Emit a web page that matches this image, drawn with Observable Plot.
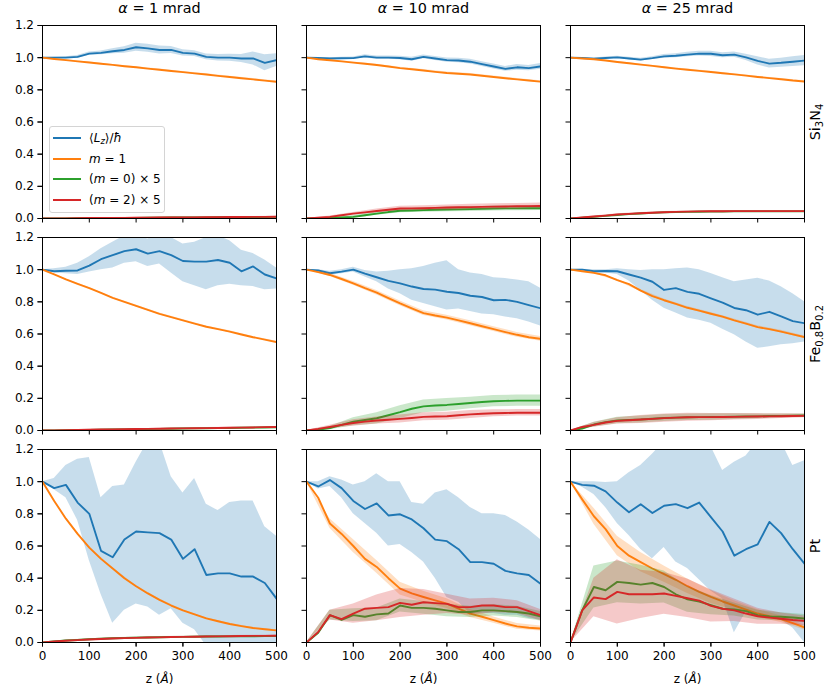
<!DOCTYPE html>
<html>
<head>
<meta charset="utf-8">
<script src="https://cdn.jsdelivr.net/npm/d3@7"></script>
<script src="https://cdn.jsdelivr.net/npm/@observablehq/plot@0.6"></script>
<style>
  body { margin: 0; background: #fff; }
  #wrap { position: relative; width: 831px; height: 693px; font-family: "DejaVu Sans", sans-serif; }
  #legend { position: absolute; left: 49px; top: 126px; width: 114px; height: 85px;
    border: 1px solid #d4d4d4; border-radius: 3px; background: rgba(255,255,255,0.8);
    font: 12px "DejaVu Sans", sans-serif; color: #000; }
  .item { position: absolute; left: 0; height: 16px; width: 114px; }
  .sw { position: absolute; left: 3px; top: 7px; width: 28px; height: 2px; }
  .lab { position: absolute; left: 39px; top: 0; line-height: 16px; white-space: nowrap; }
  sub { font-size: 8.5px; vertical-align: -2px; line-height: 0; }
</style>
</head>
<body>
<div id="wrap"><div id="chart"></div><div id="legend"></div></div>
<script>
// ---------- data ----------
const materials = ["Si3N4", "Fe0.8B0.2", "Pt"];
const alphas = [1, 10, 25];
const zGrid = [0,25,50,75,100,125,150,175,200,225,250,275,300,325,350,375,400,425,450,475,500];
const zErrGrid = [0,50,100,150,200,250,300,350,400,450,500];
const xTicks = [0,100,200,300,400,500];
const yTicks = [0,0.2,0.4,0.6,0.8,1.0,1.2];

// panel order: Si3N4 (1,10,25), Fe0.8B0.2 (1,10,25), Pt (1,10,25)
const LzMean = [
 [1.0,1.0,1.0,1.005,1.025,1.03,1.04,1.048,1.065,1.058,1.048,1.048,1.03,1.025,1.005,1.0,1.0,0.995,0.995,0.968,0.985],
 [1.0,0.998,0.995,0.996,0.997,1.008,1.0,1.0,0.998,0.99,1.005,0.995,0.985,0.982,0.975,0.96,0.945,0.93,0.94,0.935,0.946],
 [1.0,0.998,0.994,0.998,1.002,0.995,0.988,0.997,1.008,1.012,1.019,1.025,1.024,1.015,1.019,1.002,0.98,0.963,0.968,0.975,0.982],
 [1.0,0.99,0.993,0.995,1.025,1.065,1.09,1.115,1.127,1.1,1.115,1.09,1.054,1.05,1.05,1.06,1.043,0.99,1.02,0.97,0.946],
 [1.0,0.995,0.978,0.988,1.0,0.975,0.953,0.93,0.915,0.895,0.88,0.876,0.863,0.855,0.838,0.83,0.81,0.812,0.8,0.78,0.76],
 [1.0,1.0,0.99,0.992,0.99,0.97,0.95,0.925,0.874,0.885,0.862,0.85,0.822,0.795,0.762,0.748,0.72,0.738,0.71,0.68,0.667],
 [1.0,0.96,0.98,0.87,0.8,0.57,0.53,0.64,0.69,0.685,0.68,0.64,0.52,0.58,0.42,0.43,0.43,0.41,0.41,0.37,0.273],
 [1.0,0.97,1.01,0.96,0.88,0.83,0.865,0.79,0.797,0.765,0.71,0.64,0.63,0.58,0.5,0.5,0.49,0.445,0.43,0.42,0.365],
 [1.0,0.98,0.975,0.94,0.87,0.81,0.86,0.805,0.85,0.86,0.835,0.87,0.78,0.69,0.54,0.58,0.61,0.75,0.68,0.58,0.49]
];
const LzLow = [
 [1.0,0.997,0.995,0.997,1.015,1.018,1.025,1.028,1.04,1.033,1.023,1.026,1.01,1.007,0.987,0.98,0.978,0.97,0.955,0.918,0.945],
 [1.0,0.995,0.99,0.99,0.99,0.998,0.99,0.99,0.987,0.978,0.993,0.982,0.972,0.968,0.96,0.945,0.93,0.915,0.922,0.918,0.928],
 [1.0,0.995,0.99,0.992,0.995,0.987,0.98,0.988,0.997,1.0,1.005,1.01,1.008,1.0,1.003,0.982,0.955,0.935,0.94,0.945,0.95],
 [1.0,0.98,0.975,0.97,0.985,1.0,1.01,1.04,1.05,1.02,1.035,0.98,0.925,0.9,0.875,0.9,0.91,0.9,0.895,0.875,0.88],
 [1.0,0.99,0.965,0.975,0.985,0.955,0.925,0.88,0.85,0.81,0.79,0.77,0.75,0.755,0.74,0.725,0.72,0.705,0.695,0.675,0.65],
 [1.0,0.995,0.98,0.98,0.97,0.93,0.87,0.81,0.76,0.73,0.7,0.685,0.667,0.63,0.595,0.55,0.512,0.52,0.533,0.54,0.55],
 [1.0,0.95,0.9,0.76,0.51,0.3,0.12,0.2,0.24,0.22,0.17,0.21,0.12,0.08,-0.02,-0.05,-0.05,-0.05,-0.05,-0.05,-0.05],
 [1.0,0.955,0.97,0.9,0.8,0.74,0.68,0.6,0.61,0.56,0.5,0.4,0.28,0.25,0.18,0.18,0.18,0.17,0.17,0.15,0.14],
 [1.0,0.965,0.92,0.84,0.74,0.665,0.58,0.52,0.59,0.5,0.46,0.39,0.32,0.27,0.06,0.19,0.18,0.16,0.14,0.09,0.0]
];
const LzHigh = [
 [1.0,1.003,1.005,1.013,1.035,1.042,1.055,1.068,1.09,1.083,1.073,1.07,1.05,1.043,1.023,1.02,1.022,1.02,1.035,1.018,1.025],
 [1.0,1.001,1.0,1.002,1.004,1.018,1.01,1.01,1.009,1.002,1.017,1.008,0.998,0.996,0.99,0.975,0.96,0.945,0.958,0.952,0.964],
 [1.0,1.001,0.998,1.004,1.009,1.003,0.996,1.006,1.019,1.024,1.033,1.04,1.04,1.03,1.035,1.022,1.005,0.99,0.996,1.005,1.014],
 [1.0,1.005,1.015,1.04,1.08,1.13,1.17,1.21,1.22,1.19,1.22,1.2,1.16,1.17,1.2,1.21,1.18,1.12,1.1,1.06,1.01],
 [1.0,1.0,0.99,1.0,1.015,0.995,0.985,0.99,1.0,1.005,1.02,1.04,1.055,1.0,0.98,0.97,0.95,0.945,0.935,0.925,0.885],
 [1.0,1.003,1.0,1.0,1.005,1.0,0.995,1.0,1.0,1.005,1.01,1.0,0.976,0.95,0.925,0.935,0.946,0.93,0.894,0.85,0.8],
 [1.0,1.02,1.1,1.14,1.15,0.9,0.97,0.98,1.12,1.25,1.25,1.03,0.93,1.02,0.86,0.82,0.87,0.88,0.88,0.72,0.66],
 [1.0,1.0,1.03,1.01,0.98,1.0,1.05,1.0,1.0,0.87,0.86,0.93,0.95,0.9,0.84,0.8,0.8,0.79,0.75,0.7,0.64],
 [1.0,1.0,1.0,0.995,1.0,1.055,1.1,1.17,1.25,1.25,1.25,1.25,1.22,1.07,1.12,1.16,1.25,1.25,1.25,1.1,1.13]
];
const m1Mean = [
 [1.0,0.992,0.985,0.977,0.97,0.962,0.955,0.947,0.94,0.932,0.925,0.917,0.91,0.902,0.895,0.887,0.88,0.872,0.865,0.857,0.85],
 [1.0,0.99,0.984,0.977,0.969,0.962,0.954,0.945,0.935,0.928,0.92,0.912,0.905,0.9,0.895,0.888,0.88,0.872,0.865,0.858,0.851],
 [1.0,0.995,0.99,0.982,0.973,0.965,0.957,0.949,0.94,0.932,0.925,0.918,0.911,0.903,0.896,0.888,0.88,0.873,0.866,0.858,0.852],
 [1.0,0.97,0.94,0.912,0.885,0.855,0.825,0.8,0.775,0.75,0.725,0.705,0.685,0.665,0.645,0.63,0.615,0.597,0.58,0.565,0.55],
 [1.0,0.985,0.967,0.942,0.915,0.885,0.857,0.823,0.79,0.76,0.73,0.715,0.702,0.685,0.667,0.648,0.63,0.612,0.595,0.58,0.57],
 [1.0,0.99,0.98,0.965,0.935,0.91,0.87,0.835,0.81,0.787,0.763,0.745,0.726,0.708,0.685,0.665,0.643,0.63,0.615,0.598,0.58],
 [1.0,0.88,0.77,0.675,0.59,0.52,0.46,0.4,0.35,0.305,0.265,0.23,0.2,0.175,0.15,0.132,0.115,0.102,0.09,0.082,0.075],
 [1.0,0.9,0.74,0.675,0.6,0.52,0.47,0.4,0.335,0.305,0.283,0.262,0.242,0.21,0.18,0.16,0.139,0.118,0.1,0.092,0.087],
 [1.0,0.89,0.785,0.705,0.6,0.54,0.5,0.46,0.425,0.39,0.35,0.315,0.283,0.255,0.23,0.205,0.18,0.163,0.145,0.12,0.093]
];
const m1Err = [
 [0,0.002,0.003,0.003,0.004,0.004,0.004,0.005,0.005,0.005,0.005],
 [0,0.003,0.004,0.005,0.005,0.006,0.006,0.006,0.006,0.006,0.006],
 [0,0.002,0.003,0.003,0.004,0.004,0.004,0.004,0.004,0.004,0.004],
 [0,0.003,0.004,0.004,0.005,0.005,0.005,0.005,0.005,0.005,0.005],
 [0,0.01,0.012,0.014,0.015,0.015,0.015,0.015,0.015,0.015,0.015],
 [0,0.005,0.006,0.007,0.008,0.008,0.008,0.008,0.008,0.008,0.008],
 [0,0.004,0.005,0.005,0.005,0.005,0.004,0.004,0.004,0.004,0.004],
 [0,0.03,0.04,0.04,0.04,0.035,0.03,0.025,0.02,0.018,0.015],
 [0,0.05,0.06,0.06,0.05,0.045,0.04,0.03,0.025,0.02,0.015]
];
const m0Mean = [
 [0,0.001,0.001,0.002,0.002,0.003,0.003,0.004,0.004,0.005,0.005,0.006,0.006,0.007,0.007,0.008,0.008,0.008,0.009,0.009,0.01],
 [0,0.002,0.004,0.007,0.01,0.02,0.03,0.04,0.048,0.05,0.052,0.054,0.056,0.057,0.058,0.06,0.062,0.063,0.063,0.064,0.064],
 [0,0.005,0.01,0.016,0.022,0.027,0.031,0.035,0.038,0.04,0.041,0.042,0.043,0.043,0.044,0.044,0.044,0.044,0.044,0.044,0.044],
 [0,0.001,0.002,0.003,0.004,0.005,0.006,0.007,0.008,0.009,0.01,0.011,0.012,0.013,0.014,0.015,0.016,0.017,0.018,0.019,0.02],
 [0,0.005,0.015,0.035,0.055,0.065,0.076,0.095,0.114,0.135,0.15,0.155,0.159,0.165,0.171,0.177,0.182,0.184,0.186,0.186,0.186],
 [0,0.012,0.037,0.052,0.062,0.066,0.068,0.073,0.078,0.08,0.082,0.083,0.084,0.085,0.086,0.087,0.088,0.09,0.091,0.092,0.093],
 [0,0.006,0.012,0.016,0.02,0.023,0.026,0.028,0.03,0.031,0.033,0.034,0.035,0.036,0.037,0.037,0.038,0.039,0.039,0.04,0.04],
 [0,0.06,0.17,0.14,0.17,0.16,0.175,0.18,0.23,0.215,0.215,0.21,0.2,0.19,0.19,0.2,0.2,0.195,0.19,0.18,0.163],
 [0,0.2,0.345,0.325,0.377,0.37,0.36,0.37,0.345,0.3,0.268,0.255,0.232,0.21,0.205,0.195,0.17,0.162,0.16,0.155,0.149]
];
const m0Err = [
 [0,0.001,0.002,0.002,0.002,0.003,0.003,0.003,0.003,0.003,0.003],
 [0,0.004,0.008,0.01,0.012,0.013,0.014,0.014,0.015,0.015,0.015],
 [0,0.003,0.004,0.004,0.004,0.004,0.004,0.004,0.004,0.004,0.004],
 [0,0.001,0.002,0.002,0.002,0.003,0.003,0.003,0.003,0.003,0.003],
 [0,0.01,0.025,0.035,0.04,0.04,0.04,0.035,0.035,0.035,0.035],
 [0,0.015,0.02,0.022,0.022,0.02,0.02,0.018,0.015,0.012,0.01],
 [0,0.003,0.004,0.004,0.004,0.004,0.004,0.004,0.004,0.004,0.004],
 [0,0.03,0.04,0.04,0.04,0.04,0.04,0.035,0.035,0.035,0.03],
 [0,0.13,0.13,0.12,0.1,0.08,0.06,0.04,0.03,0.025,0.025]
];
const m2Mean = [
 [0,0.001,0.001,0.002,0.003,0.003,0.004,0.004,0.005,0.005,0.006,0.006,0.007,0.007,0.008,0.008,0.009,0.009,0.01,0.01,0.011],
 [0,0.005,0.01,0.02,0.03,0.038,0.047,0.054,0.062,0.063,0.064,0.066,0.068,0.07,0.071,0.072,0.074,0.075,0.076,0.077,0.078],
 [0,0.006,0.012,0.018,0.025,0.029,0.033,0.036,0.039,0.041,0.043,0.044,0.045,0.045,0.046,0.046,0.046,0.046,0.046,0.046,0.046],
 [0,0.001,0.002,0.003,0.005,0.006,0.007,0.008,0.009,0.01,0.011,0.012,0.013,0.014,0.015,0.016,0.017,0.018,0.019,0.021,0.022],
 [0,0.01,0.022,0.035,0.047,0.055,0.062,0.067,0.072,0.078,0.085,0.087,0.089,0.095,0.1,0.104,0.107,0.109,0.11,0.11,0.11],
 [0,0.022,0.035,0.05,0.06,0.064,0.068,0.072,0.077,0.08,0.082,0.083,0.083,0.084,0.085,0.086,0.087,0.088,0.089,0.09,0.091],
 [0,0.006,0.011,0.015,0.019,0.022,0.025,0.027,0.029,0.031,0.032,0.034,0.035,0.036,0.037,0.038,0.039,0.04,0.041,0.041,0.042],
 [0,0.065,0.17,0.145,0.18,0.21,0.215,0.22,0.246,0.235,0.25,0.245,0.24,0.22,0.22,0.23,0.23,0.22,0.22,0.195,0.17],
 [0,0.2,0.28,0.27,0.315,0.3,0.3,0.3,0.305,0.29,0.275,0.26,0.228,0.21,0.2,0.18,0.163,0.155,0.148,0.14,0.134]
];
const m2Err = [
 [0,0.001,0.002,0.002,0.002,0.003,0.003,0.003,0.003,0.003,0.003],
 [0,0.005,0.008,0.012,0.014,0.015,0.016,0.017,0.018,0.018,0.018],
 [0,0.003,0.004,0.004,0.004,0.004,0.004,0.004,0.004,0.004,0.004],
 [0,0.001,0.002,0.002,0.002,0.003,0.003,0.003,0.003,0.003,0.003],
 [0,0.01,0.02,0.022,0.025,0.025,0.025,0.025,0.022,0.02,0.02],
 [0,0.015,0.02,0.025,0.025,0.025,0.022,0.02,0.018,0.015,0.012],
 [0,0.003,0.004,0.004,0.004,0.004,0.004,0.004,0.004,0.004,0.004],
 [0,0.03,0.06,0.08,0.09,0.08,0.06,0.05,0.045,0.04,0.035],
 [0,0.12,0.2,0.15,0.13,0.12,0.1,0.07,0.05,0.035,0.03]
];

const colors = { Lz: "#1f77b4", m1: "#ff7f0e", m0: "#2ca02c", m2: "#d62728" };
const legendItems = [
  { key: "Lz", html: "⟨<i>L</i><sub><i>z</i></sub>⟩/<i>ħ</i>" },
  { key: "m1", html: "<i>m</i> = 1" },
  { key: "m0", html: "(<i>m</i> = 0) × 5" },
  { key: "m2", html: "(<i>m</i> = 2) × 5" }
];

// ---------- build tables ----------
const panels = materials.flatMap(m => alphas.map(a => ({ material: m, alpha: a })));
const lineRows = series => panels.flatMap((p, i) => zGrid.map((z, j) => ({ ...p, z, v: series[i][j] })));
const loHiRows = (lo, hi) => panels.flatMap((p, i) => zGrid.map((z, j) => ({ ...p, z, lo: lo[i][j], hi: hi[i][j] })));
const errRows = (mean, err) => panels.flatMap((p, i) => zErrGrid.map((z, k) => ({ ...p, z, lo: mean[i][2 * k] - err[i][k], hi: mean[i][2 * k] + err[i][k] })));

const seriesDefs = [
  { key: "Lz", line: lineRows(LzMean), band: loHiRows(LzLow, LzHigh) },
  { key: "m1", line: lineRows(m1Mean), band: errRows(m1Mean, m1Err) },
  { key: "m0", line: lineRows(m0Mean), band: errRows(m0Mean, m0Err) },
  { key: "m2", line: lineRows(m2Mean), band: errRows(m2Mean, m2Err) }
];

const facet = { fx: "alpha", fy: "material" };
const dataMarks = seriesDefs.flatMap(s => [
  Plot.areaY(s.band, { ...facet, x: "z", y1: "lo", y2: "hi", fill: colors[s.key], fillOpacity: 0.25, clip: true }),
  Plot.line(s.line, { ...facet, x: "z", y: "v", stroke: colors[s.key], strokeWidth: 1.9, clip: true })
]);

const chart = Plot.plot({
  width: 831, height: 693,
  marginLeft: 41, marginRight: 25, marginTop: 24, marginBottom: 49,
  style: { fontFamily: "DejaVu Sans, sans-serif", fontSize: "12px", color: "#000", background: "#fff" },
  fx: { domain: alphas, paddingInner: 0.113, paddingOuter: 0, axis: null },
  fy: { domain: materials, paddingInner: 0.089, paddingOuter: 0, axis: null },
  x: { domain: [0, 500] },
  y: { domain: [0, 1.2] },
  marks: [
    ...dataMarks,
    Plot.frame({ stroke: "#000", strokeWidth: 1 }),
    Plot.axisX({ ticks: xTicks, tickSize: 4.5, tickFormat: () => "", facetAnchor: null, label: null }),
    Plot.axisX({ ticks: xTicks, tickSize: 4.5, tickPadding: 4, facetAnchor: "bottom", label: null, fontSize: 12 }),
    Plot.axisY({ ticks: yTicks, tickSize: 4.5, tickFormat: () => "", facetAnchor: null, label: null }),
    Plot.axisY({ ticks: yTicks, tickSize: 4.5, tickPadding: 4, tickFormat: d => d.toFixed(1), facetAnchor: "left", label: null, fontSize: 12 }),
    Plot.text(alphas.map(a => ({ alpha: a, material: materials[0], label: `α = ${a} mrad` })),
      { ...facet, text: "label", frameAnchor: "top", dy: -17, lineAnchor: "middle", fontSize: 14.4 }),
    Plot.text(materials.map(m => ({ alpha: alphas[2], material: m })),
      { ...facet, text: "material", frameAnchor: "right", dx: 11, rotate: -90, lineAnchor: "middle", textAnchor: "middle", fontSize: 14.4 }),
    Plot.text(alphas.map(a => ({ alpha: a, material: materials[2], label: "z (Å)" })),
      { ...facet, text: "label", frameAnchor: "bottom", dy: 37, lineAnchor: "middle", fontSize: 12 })
  ]
});
document.getElementById("chart").append(chart);

// rich text (italics / subscripts) for labels
const sub = s => `<tspan font-size="10" dy="3">${s}</tspan>`;
const rich = {
  "Si3N4": `Si${sub("3")}<tspan dy="-3">N</tspan>${sub("4")}`,
  "Fe0.8B0.2": `Fe${sub("0.8")}<tspan dy="-3">B</tspan>${sub("0.2")}`,
  "z (Å)": `z (<tspan font-style="italic">Å</tspan>)`
};
alphas.forEach(a => rich[`α = ${a} mrad`] = `<tspan font-style="italic">α</tspan> = ${a} mrad`);
chart.querySelectorAll("text").forEach(t => { const k = t.textContent; if (rich[k]) t.innerHTML = rich[k]; });

// legend
const leg = document.getElementById("legend");
legendItems.forEach((it, i) => {
  const row = document.createElement("div");
  row.className = "item";
  row.style.top = (3 + i * 20.7) + "px";
  row.innerHTML = `<div class="sw" style="background:${colors[it.key]}"></div><div class="lab">${it.html}</div>`;
  leg.append(row);
});
</script>
</body>
</html>
